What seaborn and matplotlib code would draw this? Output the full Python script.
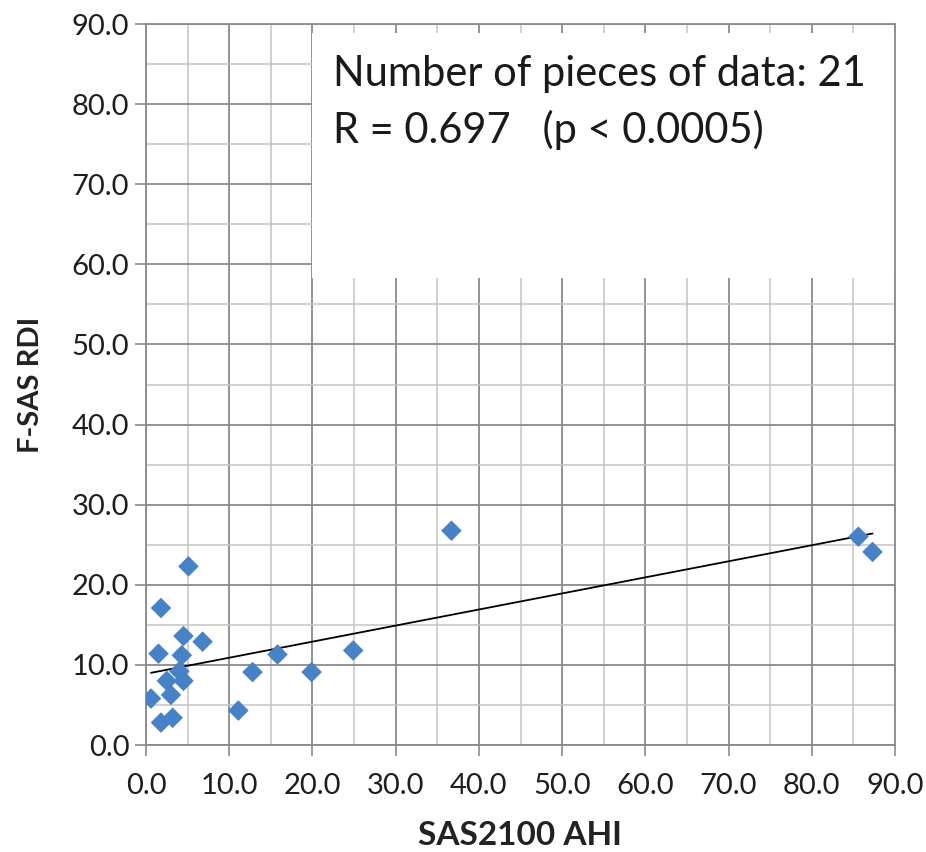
import numpy as np
import pandas as pd
import seaborn as sns
import matplotlib
matplotlib.use("Agg")
import matplotlib.pyplot as plt
from matplotlib.patches import Rectangle
from matplotlib.ticker import MultipleLocator, FormatStrFormatter

sas2100_ahi = [0.6, 1.8, 3.2, 1.5, 1.8, 5.1, 2.5, 3.0, 4.0, 4.5, 4.3, 4.5,
               6.8, 11.1, 12.8, 15.8, 19.9, 24.9, 36.7, 85.6, 87.3]
fsas_rdi = [5.8, 2.8, 3.4, 11.4, 17.1, 22.3, 8.0, 6.25, 9.2, 8.0, 11.2, 13.6,
            12.9, 4.3, 9.1, 11.3, 9.1, 11.8, 26.75, 26.0, 24.1]
annotation_lines = ["Number of pieces of data: 21", "R = 0.697   (p < 0.0005)"]
x_label = "SAS2100 AHI"
y_label = "F-SAS RDI"

df = pd.DataFrame({"x": sas2100_ahi, "y": fsas_rdi})

sns.set_theme(style="white")
plt.rcParams['font.family'] = ['Lato', 'DejaVu Sans']

fig = plt.figure(figsize=(9.26, 8.52), dpi=100)
ax = fig.add_axes([146/926, 1 - 745/852, (895-146)/926, (745-24)/852])

ax.set_xlim(0, 90)
ax.set_ylim(0, 90)
ax.xaxis.set_major_locator(MultipleLocator(10))
ax.yaxis.set_major_locator(MultipleLocator(10))
ax.xaxis.set_minor_locator(MultipleLocator(5))
ax.yaxis.set_minor_locator(MultipleLocator(5))
ax.xaxis.set_major_formatter(FormatStrFormatter('%.1f'))
ax.yaxis.set_major_formatter(FormatStrFormatter('%.1f'))

ax.grid(which='major', color='#8a8a8a', linewidth=1.3)
ax.grid(which='minor', color='#c4c4c4', linewidth=1.1)
ax.set_axisbelow(True)
for s in ax.spines.values():
    s.set_color('#8a8a8a')
    s.set_linewidth(1.3)

ax.tick_params(which='major', direction='out', length=8, width=1.2, color='#8a8a8a',
               labelsize=21, labelcolor='#1e1e1e', bottom=True, left=True)
ax.tick_params(axis='x', pad=12)
ax.tick_params(axis='y', pad=4)
ax.tick_params(which='minor', length=0)

# white annotation box covering the grid
ax.add_patch(Rectangle((20, 58.3), 70, 30.6, facecolor='white', edgecolor='none', zorder=1.5))
ax.text(22.5, 82.3, annotation_lines[0], fontsize=30, color='#1a1a1a', zorder=3, va='baseline')
ax.text(22.5, 75.1, annotation_lines[1], fontsize=30, color='#1a1a1a', zorder=3, va='baseline')

sns.regplot(data=df, x="x", y="y", scatter=False, ci=None, truncate=True,
            line_kws={'color': 'black', 'linewidth': 1.3, 'zorder': 3}, ax=ax)
sns.scatterplot(data=df, x="x", y="y", marker='D', s=110, color='#4682C8',
                edgecolor='none', zorder=4, ax=ax)

ax.set_xlim(0, 90)
ax.set_ylim(0, 90)
ax.set_xlabel(x_label, fontsize=24, fontweight='bold', color='#222222', labelpad=16)
ax.set_ylabel(y_label, fontsize=21, fontweight='bold', color='#222222', labelpad=20)

fig.savefig("out.png", dpi=100)
